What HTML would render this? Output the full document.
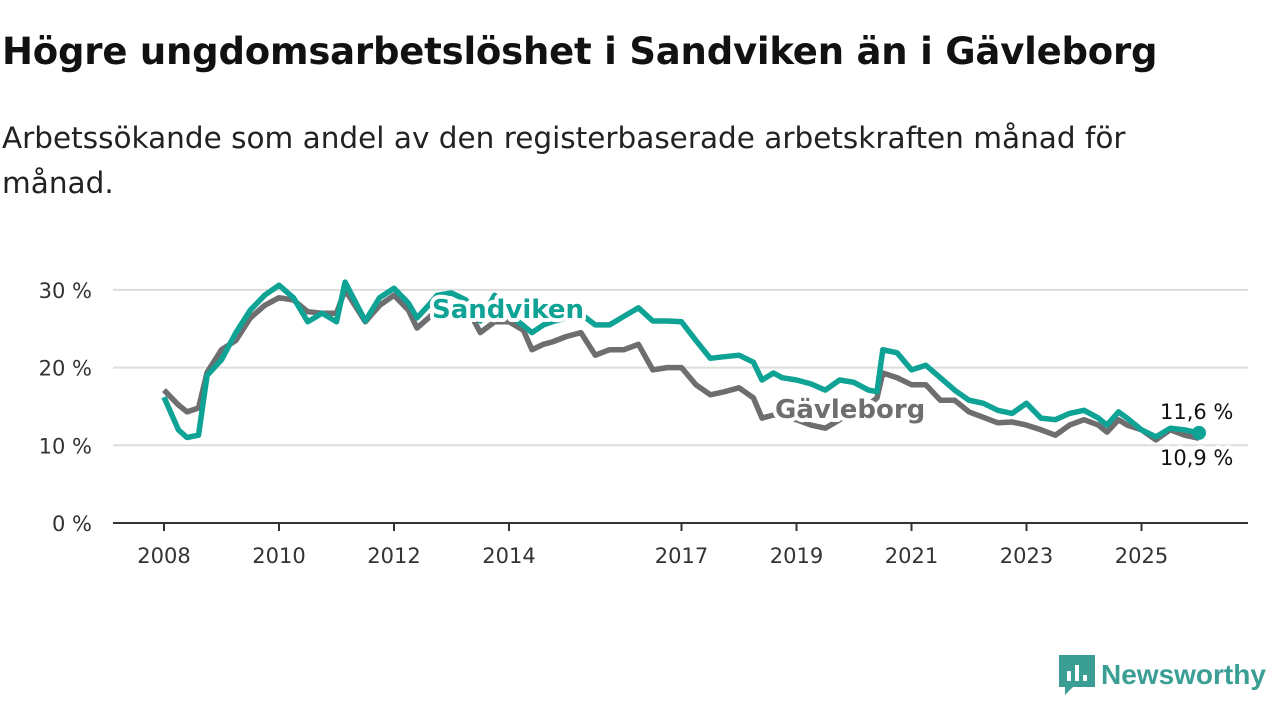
<!DOCTYPE html>
<html><head><meta charset="utf-8"><style>
body{margin:0;width:1280px;height:720px;background:#fff;font-family:"DejaVu Sans","Liberation Sans",sans-serif;overflow:hidden;position:relative}
#title{position:absolute;left:2px;top:30px;font-size:37px;font-weight:bold;color:#111;letter-spacing:-0.2px}
#sub{position:absolute;left:2px;top:116px;font-size:29.5px;line-height:45px;color:#222;width:1175px}
svg{position:absolute;left:0;top:0}
</style></head><body>
<div id="title">Högre ungdomsarbetslöshet i Sandviken än i Gävleborg</div>
<div id="sub">Arbetssökande som andel av den registerbaserade arbetskraften månad för månad.</div>
<svg id="chart" width="1280" height="720"></svg>
<script>
const years=[2008,2008.25,2008.4,2008.6,2008.75,2009,2009.25,2009.5,2009.75,2010,2010.25,2010.5,2010.75,2011,2011.15,2011.5,2011.75,2012,2012.25,2012.4,2012.6,2012.75,2013,2013.25,2013.5,2013.75,2014,2014.25,2014.4,2014.6,2014.75,2015,2015.25,2015.5,2015.75,2016,2016.25,2016.5,2016.75,2017,2017.25,2017.5,2017.75,2018,2018.25,2018.4,2018.6,2018.75,2019,2019.25,2019.5,2019.75,2020,2020.25,2020.4,2020.5,2020.75,2021,2021.25,2021.5,2021.75,2022,2022.25,2022.5,2022.75,2023,2023.25,2023.5,2023.75,2024,2024.25,2024.4,2024.6,2024.75,2025,2025.25,2025.5,2025.75,2026];
const sandviken=[16.2,12,11,11.3,19,21,24.5,27.4,29.3,30.6,29,25.9,27,25.9,31,26,29,30.2,28.3,26.4,28,29.3,29.6,28.7,26,29.3,26.8,25.4,24.5,25.5,25.9,26.4,26.9,25.5,25.5,26.6,27.7,26,26,25.9,23.5,21.2,21.4,21.6,20.7,18.4,19.3,18.7,18.4,17.9,17.1,18.4,18.1,17.1,16.9,22.3,21.9,19.7,20.3,18.7,17.1,15.8,15.4,14.5,14.1,15.4,13.5,13.3,14.1,14.5,13.5,12.6,14.3,13.5,12,11.1,12.2,12,11.6];
const gavleborg=[17.1,15.2,14.3,14.8,19.4,22.3,23.5,26.4,28,29,28.7,27.2,27,27,30,25.9,28,29.3,27.4,25.1,26.4,27.4,28,28,24.5,25.9,25.9,24.8,22.3,23,23.3,24,24.5,21.6,22.3,22.3,23,19.7,20,20,17.8,16.5,16.9,17.4,16.1,13.5,13.9,13.9,13.3,12.6,12.2,13.3,14.5,15.2,16.1,19.3,18.7,17.8,17.8,15.8,15.8,14.3,13.6,12.9,13,12.6,12,11.3,12.6,13.3,12.6,11.7,13.3,12.6,12,10.7,12,11.3,10.9];
const yTicks=[0,10,20,30];
const xTicks=[2008,2010,2012,2014,2017,2019,2021,2023,2025];
const svg=document.getElementById('chart');const NS='http://www.w3.org/2000/svg';
const x=v=>164+(v-2008)*57.5;const y=v=>523-v*7.77;
function mk(t,a,p){const e=document.createElementNS(NS,t);for(const k in a)e.setAttribute(k,a[k]);(p||svg).appendChild(e);return e;}
yTicks.forEach(t=>{
 const l=mk('line',{x1:113,x2:1248,y1:y(t),y2:y(t),stroke:t===0?'#333':'#ddd','stroke-width':2});
 
 
 const tx=mk('text',{x:92,y:y(t)+8,'text-anchor':'end','font-size':21,fill:'#333'});tx.textContent=t+' %';
 
 
});
xTicks.forEach(t=>{
 const l=mk('line',{x1:x(t),x2:x(t),y1:523,y2:531,stroke:'#333','stroke-width':2});
 
 
 const tx=mk('text',{x:x(t),y:563,'text-anchor':'middle','font-size':21,fill:'#333'});tx.textContent=t;
 
 
});
function line(vals,col,name){const d=vals.map((v,i)=>(i?'L':'M')+x(years[i]).toFixed(1)+' '+y(v).toFixed(1)).join('');
 const p=mk('path',{d:d,fill:'none',stroke:col,'stroke-width':5.5,'stroke-linejoin':'round'});
 
 }
line(gavleborg,'#6e6d70','gavleborg-line');
line(sandviken,'#0fa396','sandviken-line');
const dot=mk('circle',{cx:x(years[years.length-1]),cy:y(sandviken[sandviken.length-1]),r:7,fill:'#0fa396'});


function label(txt,xx,yy,col,fs,w,name,halo){const t=mk('text',{x:xx,y:yy,'font-size':fs,'font-weight':w,fill:col,stroke:halo?'#fff':'none','stroke-width':halo?8:0,'paint-order':'stroke','stroke-linejoin':'round'});t.textContent=txt;
 
 }
label('Sandviken',432,318,'#0fa396',26,'bold','sandviken-label',true);
label('Gävleborg',775,418,'#6e6d70',26,'bold','gavleborg-label',true);
label('11,6 %',1160,419,'#111',21,'normal','sandviken-value',true);
label('10,9 %',1160,465,'#111',21,'normal','gavleborg-value',true);
</script>
<div style="position:absolute;left:1059px;top:655px;height:40px;display:flex;align-items:center">
<svg width="36" height="40" style="position:static"><path d="M0 0H36V32H14L6 40V32H0Z" fill="#3a9e94"/><rect x="8" y="16" width="4" height="10" fill="#fff"/><rect x="16" y="10" width="4" height="16" fill="#fff"/><rect x="24" y="20" width="4" height="6" fill="#fff"/></svg>
<span style="margin-left:6px;font-size:28px;font-weight:bold;color:#3a9e94;font-family:'Liberation Sans',sans-serif">Newsworthy</span></div>
</body></html>
